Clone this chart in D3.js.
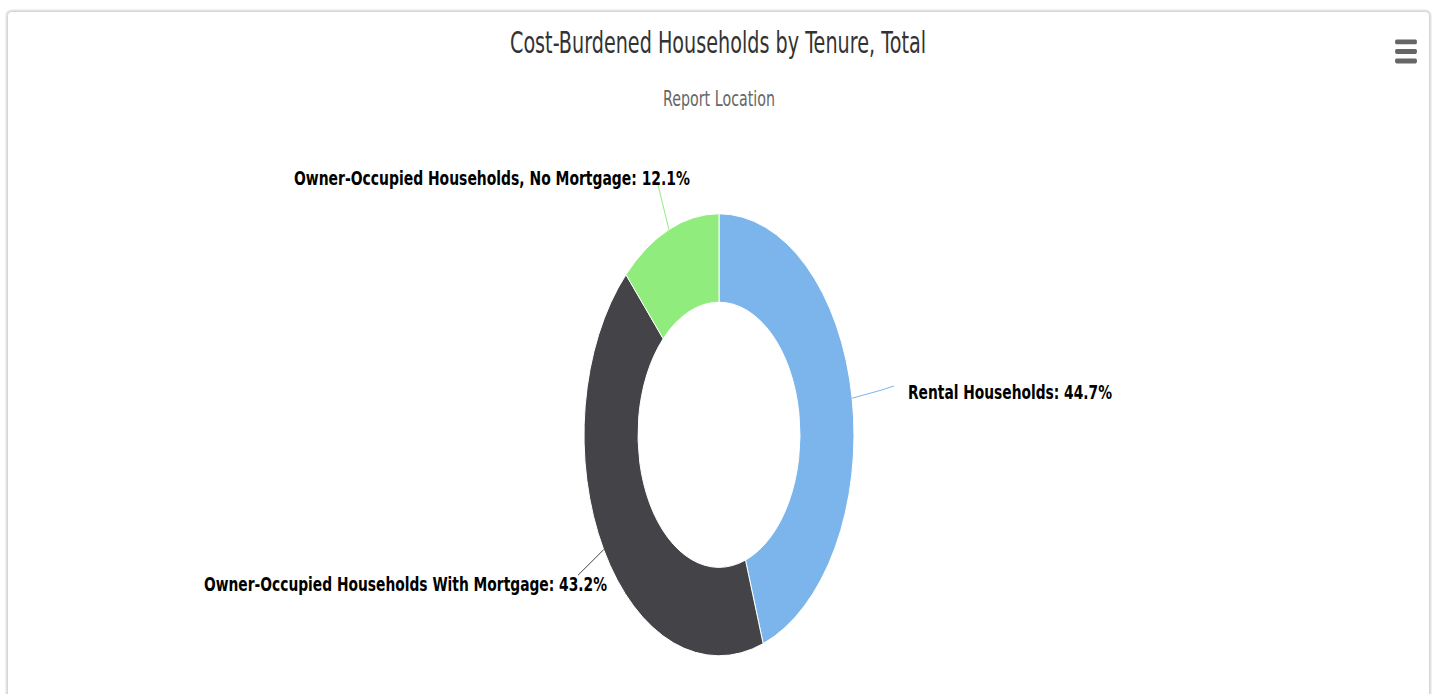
<!DOCTYPE html>
<html>
<head>
<meta charset="utf-8">
<script src="https://cdn.jsdelivr.net/npm/d3@7"></script>
<style>
  html, body { margin: 0; padding: 0; background: #fff; }
  svg { display: block; }
</style>
</head>
<body>
<svg id="chart" width="1435" height="694"></svg>
<script>
// Share of cost-burdened households by tenure (percent)
const categories = [
  "Rental Households",
  "Owner-Occupied Households With Mortgage",
  "Owner-Occupied Households, No Mortgage"
];
const shares = [44.7, 43.2, 12.1];
const sliceColors = ["#7cb5ec", "#434348", "#90ed7d"];
const titleText = "Cost-Burdened Households by Tenure, Total";
const subtitleText = "Report Location";

const W = 1435, H = 694;
const K = 1.637;               // vertical stretch of the chart canvas

const svg = d3.select("#chart");

// card frame
svg.append("rect")
  .attr("x", 6.5).attr("y", 10.5)
  .attr("width", 1424).attr("height", 720)
  .attr("rx", 5)
  .attr("fill", "#fff")
  .attr("stroke", "#e4e4e4")
  .attr("stroke-width", 2);
svg.append("rect")
  .attr("x", 7.5).attr("y", 11.5)
  .attr("width", 1422).attr("height", 720)
  .attr("rx", 4)
  .attr("fill", "none")
  .attr("stroke", "#d6d6d6")
  .attr("stroke-width", 1);

const g = svg.append("g").attr("transform", `scale(1,${K})`);

// title and subtitle
g.append("text")
  .attr("x", 718).attr("y", 32.3)
  .attr("text-anchor", "middle")
  .attr("font-family", "DejaVu Sans, sans-serif")
  .attr("font-size", 18)
  .attr("fill", "#333333")
  .attr("textLength", 416)
  .attr("lengthAdjust", "spacingAndGlyphs")
  .text(titleText);

g.append("text")
  .attr("x", 719).attr("y", 64.6)
  .attr("text-anchor", "middle")
  .attr("font-family", "DejaVu Sans, sans-serif")
  .attr("font-size", 12.5)
  .attr("fill", "#666666")
  .attr("textLength", 112)
  .attr("lengthAdjust", "spacingAndGlyphs")
  .text(subtitleText);

// context menu button
const menu = g.append("g").attr("transform", "translate(1395,0)");
[25.6, 31.5, 37.3].forEach(y => {
  menu.append("line")
    .attr("x1", 1.5).attr("x2", 20.5)
    .attr("y1", y).attr("y2", y)
    .attr("stroke", "#666")
    .attr("stroke-width", 3)
    .attr("stroke-linecap", "round");
});

// donut
const cx = 719, cy = 265.6;
const outerR = 135, innerR = outerR * 0.6;
const pie = d3.pie().sort(null).value(d => d);
const arcs = pie(shares);
const arc = d3.arc().innerRadius(innerR).outerRadius(outerR);

const donut = g.append("g").attr("transform", `translate(${cx},${cy})`);
donut.selectAll("path.slice")
  .data(arcs)
  .join("path")
  .attr("class", "slice")
  .attr("d", arc)
  .attr("fill", (d, i) => sliceColors[i])
  .attr("stroke", "#ffffff")
  .attr("stroke-width", 1)
  .attr("vector-effect", "non-scaling-stroke");

// data label connectors and labels
const labelSpots = [
  { x: 908, y: 243.8, anchor: "start", width: 204 },
  { x: 607, y: 361.0, anchor: "end",   width: 403 },
  { x: 690, y: 113.0, anchor: "end",   width: 396 }
];
const connectorLen = 30;

arcs.forEach((d, i) => {
  const a = (d.startAngle + d.endAngle) / 2;
  const p0 = [Math.sin(a) * outerR, -Math.cos(a) * outerR];
  const p1 = [Math.sin(a) * (outerR + connectorLen), -Math.cos(a) * (outerR + connectorLen)];
  const pts = [p0, p1];
  const spot = labelSpots[i];
  if (spot.anchor === "start") pts.push([spot.x - cx - 14, p1[1] - 2.5]);
  donut.append("path")
    .attr("d", d3.line()(pts))
    .attr("fill", "none")
    .attr("stroke", sliceColors[i])
    .attr("stroke-width", 1)
    .attr("vector-effect", "non-scaling-stroke");

  g.append("text")
    .attr("x", spot.x).attr("y", spot.y)
    .attr("text-anchor", spot.anchor)
    .attr("font-family", "DejaVu Sans, sans-serif")
    .attr("font-weight", "bold")
    .attr("font-size", 12)
    .attr("fill", "#000000")
    .attr("textLength", spot.width)
    .attr("lengthAdjust", "spacingAndGlyphs")
    .text(`${categories[i]}: ${d3.format(".1f")(shares[i])}%`);
});
</script>
</body>
</html>
